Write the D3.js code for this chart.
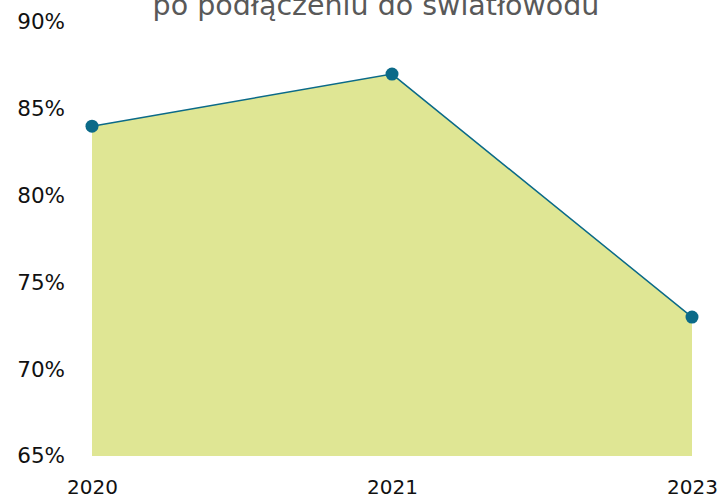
<!DOCTYPE html>
<html>
<head>
<meta charset="utf-8">
<script src="https://cdn.jsdelivr.net/npm/d3@7"></script>
<style>
  body { margin: 0; background: #fff; }
  svg { display: block; }
  .tick text { font-family: "DejaVu Sans", sans-serif; fill: #111; }
</style>
</head>
<body>
<div id="chart"></div>
<script>
// data
let years = ["2020", "2021", "2023"];
let shares = [84, 87, 73];
let yTicks = [65, 70, 75, 80, 85, 90];
let title = "po podłączeniu do światłowodu";

let width = 718;
let height = 496;

let svg = d3.select("#chart")
            .append("svg")
            .attr("width", width)
            .attr("height", height);

let points = years.map((y, i) => ({ year: y, value: shares[i] }));

let xScale = d3.scalePoint()
               .domain(years)
               .range([92, 692]);

let yScale = d3.scaleLinear()
               .domain([65, 90])
               .range([456, 22]);

// title (first line sits above the visible frame)
svg.append("text")
   .attr("x", 376)
   .attr("y", 15)
   .attr("text-anchor", "middle")
   .attr("font-family", "DejaVu Sans, sans-serif")
   .attr("font-size", 28.5)
   .attr("fill", "#595959")
   .text(title);

// area under the line
let area = d3.area()
             .x(d => xScale(d.year))
             .y0(yScale(65))
             .y1(d => yScale(d.value));

svg.append("path")
   .datum(points)
   .attr("d", area)
   .attr("fill", "#dfe694");

let line = d3.line()
             .x(d => xScale(d.year))
             .y(d => yScale(d.value));

svg.append("path")
   .datum(points)
   .attr("d", line)
   .attr("fill", "none")
   .attr("stroke", "#0b6a88")
   .attr("stroke-width", 1.5);

svg.selectAll("circle")
   .data(points)
   .enter()
   .append("circle")
   .attr("cx", d => xScale(d.year))
   .attr("cy", d => yScale(d.value))
   .attr("r", 6.5)
   .attr("fill", "#0b6a88");

// axes
let yAxis = d3.axisLeft(yScale)
              .tickValues(yTicks)
              .tickSize(0)
              .tickPadding(0)
              .tickFormat(d => d + "%");

let yG = svg.append("g")
            .attr("transform", "translate(65, 0)")
            .call(yAxis);
yG.select(".domain").remove();
yG.selectAll("text").attr("font-size", 21.5).attr("font-family", null);

let xAxis = d3.axisBottom(xScale)
              .tickSize(0)
              .tickPadding(24);

let xG = svg.append("g")
            .attr("transform", "translate(0, 456)")
            .call(xAxis);
xG.select(".domain").remove();
xG.selectAll("text").attr("font-size", 20).attr("font-family", null);
</script>
</body>
</html>
